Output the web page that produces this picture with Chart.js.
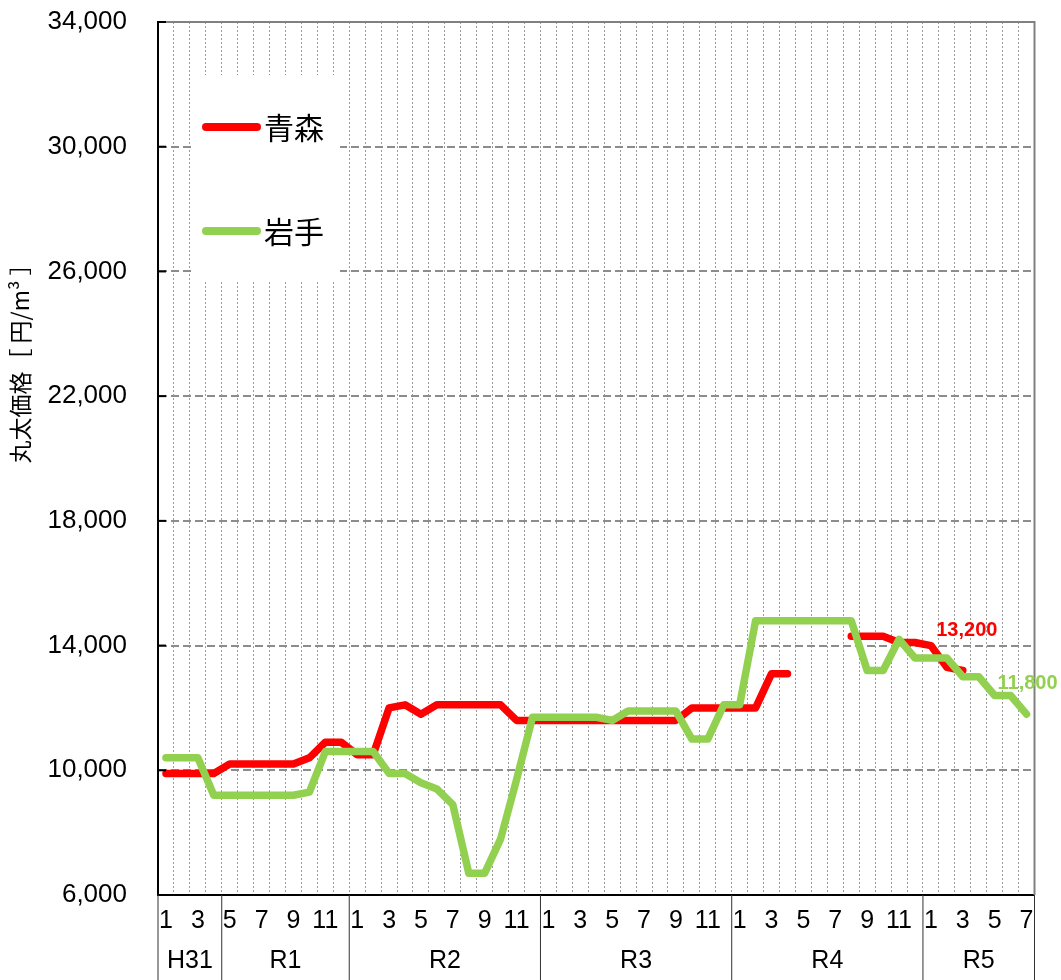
<!DOCTYPE html>
<html lang="ja">
<head>
<meta charset="utf-8">
<title>丸太価格</title>
<script src="https://cdn.jsdelivr.net/npm/chart.js@4.4.1/dist/chart.umd.min.js"></script>
<style>
  html, body { margin: 0; padding: 0; background: #fff; }
  #wrap { width: 1061px; height: 980px; position: relative; }
</style>
</head>
<body>
<div id="wrap"><canvas id="grafica"></canvas></div>
<script>
// months from H31.1 to R5.7
const months = [
  1, 2, 3, 4,
  5, 6, 7, 8, 9, 10, 11, 12,
  1, 2, 3, 4, 5, 6, 7, 8, 9, 10, 11, 12,
  1, 2, 3, 4, 5, 6, 7, 8, 9, 10, 11, 12,
  1, 2, 3, 4, 5, 6, 7, 8, 9, 10, 11, 12,
  1, 2, 3, 4, 5, 6, 7
];
const eras = ["H31", "R1", "R2", "R3", "R4", "R5"];
const eraLengths = [4, 8, 12, 12, 12, 7];

const aomori = [
  9900, 9900, 9900, 9900,
  10200, 10200, 10200, 10200, 10200, 10400, 10900, 10900,
  10500, 10500, 12000, 12100, 11800, 12100, 12100, 12100, 12100, 12100, 11600, 11600,
  11600, 11600, 11600, 11600, 11600, 11600, 11600, 11600, 11600, 12000, 12000, 12000,
  12000, 12000, 13100, 13100, null, null, null, 14300, 14300, 14300, 14100, 14100,
  14000, 13300, 13200, null, null, null, null
];
const iwate = [
  10400, 10400, 10400, 9200,
  9200, 9200, 9200, 9200, 9200, 9300, 10600, 10600,
  10600, 10600, 9900, 9900, 9600, 9400, 8900, 6700, 6700, 7800, 9700, 11700,
  11700, 11700, 11700, 11700, 11600, 11900, 11900, 11900, 11900, 11000, 11000, 12100,
  12100, 14800, 14800, 14800, 14800, 14800, 14800, 14800, 13200, 13200, 14200, 13600,
  13600, 13600, 13000, 13000, 12400, 12400, 11800
];
const yTicks = [6000, 10000, 14000, 18000, 22000, 26000, 30000, 34000];

const RED = "rgb(255, 0, 0)";
const GREEN = "rgb(146, 208, 80)";
const fmt = v => v.toLocaleString("en-US");

const extras = {
  id: "extras",
  beforeDatasetsDraw(chart) {
    const { ctx } = chart;
    ctx.save();
    // legend box
    ctx.fillStyle = "#fff";
    ctx.fillRect(192, 75, 148, 207);
    const items = [[RED, "青森", 127], [GREEN, "岩手", 231]];
    ctx.lineCap = "round";
    ctx.lineWidth = 8;
    ctx.font = '30px "Noto Sans CJK JP"';
    ctx.textBaseline = "middle";
    ctx.textAlign = "left";
    items.forEach(([c, t, yy]) => {
      ctx.strokeStyle = c;
      ctx.beginPath();
      ctx.moveTo(206, yy);
      ctx.lineTo(257, yy);
      ctx.stroke();
      ctx.fillStyle = "#000";
      ctx.fillText(t, 264, yy + 1);
    });
    ctx.restore();
  },
  afterDraw(chart) {
    const { ctx, chartArea: a, scales: { x, y } } = chart;
    ctx.save();
    // top / right frame
    ctx.strokeStyle = "#808080";
    ctx.lineWidth = 2;
    ctx.beginPath();
    ctx.moveTo(a.left, a.top);
    ctx.lineTo(a.right, a.top);
    ctx.lineTo(a.right, a.bottom);
    ctx.stroke();
    // inner y ticks
    ctx.strokeStyle = "#000";
    yTicks.forEach(v => {
      const py = y.getPixelForValue(v);
      ctx.beginPath();
      ctx.moveTo(a.left, py);
      ctx.lineTo(a.left + 8, py);
      ctx.stroke();
    });
    // era separators and labels
    ctx.lineWidth = 1;
    ctx.strokeStyle = "#333";
    ctx.fillStyle = "#000";
    ctx.font = '25px "Liberation Sans"';
    ctx.textAlign = "center";
    ctx.textBaseline = "middle";
    const sep = px => {
      ctx.beginPath();
      ctx.moveTo(px, a.bottom);
      ctx.lineTo(px, chart.height);
      ctx.stroke();
    };
    sep(a.left);
    let start = 0;
    eras.forEach((name, k) => {
      const end = start + eraLengths[k] - 1;
      const x0 = x.getPixelForValue(start);
      const x1 = x.getPixelForValue(end);
      const half = (x.getPixelForValue(1) - x.getPixelForValue(0)) / 2;
      sep(x1 + half);
      ctx.fillText(name, (x0 + x1) / 2, 961);
      start = end + 1;
    });
    // y axis title
    ctx.save();
    ctx.translate(20, 358);
    ctx.rotate(-Math.PI / 2);
    ctx.font = '23px "Noto Sans CJK JP"';
    ctx.fillText("丸太価格［ 円/m³ ］", 0, 0);
    ctx.restore();
    // last value labels
    ctx.font = 'bold 20px "Liberation Sans"';
    const lab = (ds, i, dx, dy, c) => {
      const pt = chart.getDatasetMeta(ds).data[i];
      const v = chart.data.datasets[ds].data[i];
      ctx.fillStyle = c;
      ctx.fillText(fmt(v), pt.x + dx, pt.y + dy);
    };
    lab(0, 50, 4, -40, RED);
    lab(1, 54, 1, -31, GREEN);
    ctx.restore();
  }
};

Chart.defaults.font.family = '"Liberation Sans", Arial, sans-serif';
Chart.defaults.color = "#000";

const ctx = document.getElementById("grafica");
new Chart(ctx, {
  type: "line",
  data: {
    labels: months,
    datasets: [
      {
        label: "青森",
        data: aomori,
        borderColor: RED,
        backgroundColor: RED,
        borderWidth: 7.5,
        pointRadius: 0,
        borderCapStyle: "round",
        borderJoinStyle: "round",
        spanGaps: false,
        order: 1
      },
      {
        label: "岩手",
        data: iwate,
        borderColor: GREEN,
        backgroundColor: GREEN,
        borderWidth: 7.5,
        pointRadius: 0,
        borderCapStyle: "round",
        borderJoinStyle: "round",
        order: 0
      }
    ]
  },
  options: {
    responsive: true,
    maintainAspectRatio: false,
    animation: false,
    layout: { padding: { top: 22, right: 26.5, bottom: 0, left: 0 } },
    plugins: {
      legend: { display: false },
      tooltip: { enabled: false }
    },
    scales: {
      x: {
        offset: true,
        grid: { offset: true, color: "#9a9a9a", lineWidth: 1, drawTicks: false },
        border: { color: "#000", width: 2, dash: [2, 2] },
        ticks: {
          autoSkip: false,
          maxRotation: 0,
          padding: 11,
          font: { size: 25 },
          callback: (v, i) => (months[i] % 2 === 1 ? String(months[i]) : "")
        },
        afterFit: s => { s.height = 85; }
      },
      y: {
        min: 6000,
        max: 34000,
        afterBuildTicks: s => { s.ticks = yTicks.map(v => ({ value: v })); },
        grid: { color: "#8c8c8c", lineWidth: 2, drawTicks: false },
        border: { color: "#000", width: 2, dash: [8, 4] },
        ticks: {
          padding: 31,
          font: { size: 26 },
          callback: v => fmt(v)
        },
        afterFit: s => {
          s.width = 158;
          s.paddingTop = 0;
          s.paddingBottom = 0;
        }
      }
    }
  },
  plugins: [extras]
});
</script>
</body>
</html>
